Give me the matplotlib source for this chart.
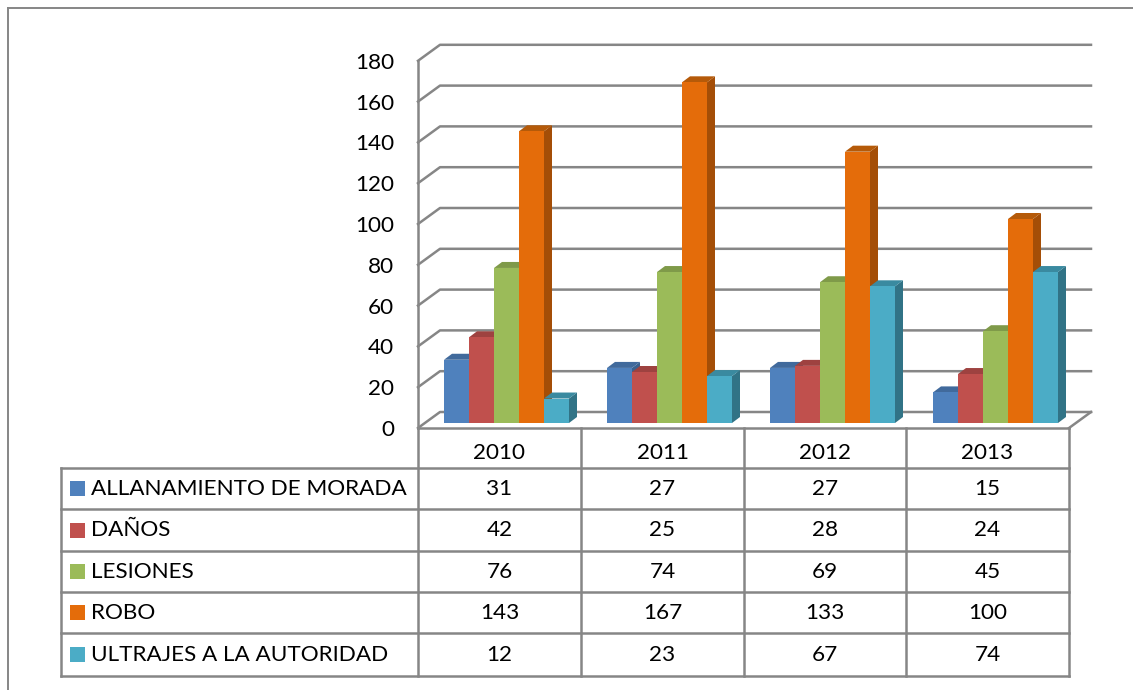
import matplotlib
matplotlib.use("Agg")
import matplotlib.pyplot as plt
from matplotlib.patches import Polygon, Rectangle

plt.rcParams['font.family'] = ['Lato', 'DejaVu Sans']

years = ["2010", "2011", "2012", "2013"]
names = ["ALLANAMIENTO DE MORADA", "DAÑOS", "LESIONES", "ROBO", "ULTRAJES A LA AUTORIDAD"]
allanamiento = [31, 27, 27, 15]
danos = [42, 25, 28, 24]
lesiones = [76, 74, 69, 45]
robo = [143, 167, 133, 100]
ultrajes = [12, 23, 67, 74]
series = [allanamiento, danos, lesiones, robo, ultrajes]
yticks = list(range(0, 181, 20))

front = ["#4F81BD", "#C0504D", "#9BBB59", "#E46C0A", "#4BACC6"]
side = ["#3A618F", "#8F3B39", "#738C41", "#A44E07", "#317386"]
top = ["#416A9C", "#9E4240", "#7F9A49", "#B55A09", "#3A8AA0"]
grid = "#868686"
FS = 16.2

# the whole figure is one axes in pixel units, y downwards
fig = plt.figure(figsize=(11.33, 6.90), dpi=100)
ax = fig.add_axes([0, 0, 1, 1])
ax.set_xlim(0, 1133)
ax.set_ylim(690, 0)
ax.axis("off")

PX = 2.04       # pixels per unit of value
DX, DY = 22, -16   # wall depth
BASE = 428
LEFT = 418
RIGHT = 1069

def line(xs, ys, lw=1.8, z=1):
    ax.plot(xs, ys, color=grid, lw=lw, solid_capstyle="projecting", zorder=z)

# outer chart border
line([8, 8], [690, 8], lw=1.4)
line([8, 1133], [8, 8], lw=1.4)

# walls and floor
for v in yticks:
    y = BASE - v * PX
    line([LEFT, LEFT + DX, RIGHT + DX], [y, y + DY, y + DY])
    ax.text(394, y + 2, str(v), ha="right", va="center", fontsize=FS, color="black")
line([LEFT, LEFT], [BASE - 180 * PX, BASE])
line([RIGHT, RIGHT + DX], [BASE, BASE + DY])

# bars
bw = 25
dep_x, dep_y = 8, -6
base_y = 423
for g in range(len(years)):
    x0 = 444 + 163 * g
    for s in range(len(series)):
        val = series[s][g]
        x = x0 + s * bw
        y = base_y - val * PX
        ax.add_patch(Polygon([(x + bw, y), (x + bw + dep_x, y + dep_y),
                              (x + bw + dep_x, base_y + dep_y), (x + bw, base_y)],
                             fc=side[s], ec="none", zorder=3 + s))
        ax.add_patch(Polygon([(x, y), (x + dep_x, y + dep_y),
                              (x + bw + dep_x, y + dep_y), (x + bw, y)],
                             fc=top[s], ec="none", zorder=3 + s))
        ax.bar(x, val * PX, width=bw, bottom=y, align="edge", color=front[s], zorder=3 + s)

# data table
rows = [468, 509, 551, 592, 633, 676]
cols = [418, 581, 744, 906, 1069]
line([LEFT, RIGHT], [BASE, BASE], z=10)
for y in rows:
    line([61, RIGHT], [y, y])
line([61, 61], [rows[0], rows[-1]])
for x in cols:
    line([x, x], [BASE, rows[-1]], z=10)

for i, yr in enumerate(years):
    ax.text((cols[i] + cols[i + 1]) / 2, 453, yr, ha="center", va="center", fontsize=FS, color="black")

for s, name in enumerate(names):
    yc = (rows[s] + rows[s + 1]) / 2
    ax.add_patch(Rectangle((70, yc - 7.5), 15, 15, fc=front[s], ec="none"))
    ax.text(91, yc + 0.5, name, ha="left", va="center", fontsize=FS, color="black")
    for g in range(len(years)):
        ax.text((cols[g] + cols[g + 1]) / 2, yc + 0.5, str(series[s][g]), ha="center", va="center",
                fontsize=FS, color="black")

fig.savefig("out.png", dpi=100, facecolor="white")
